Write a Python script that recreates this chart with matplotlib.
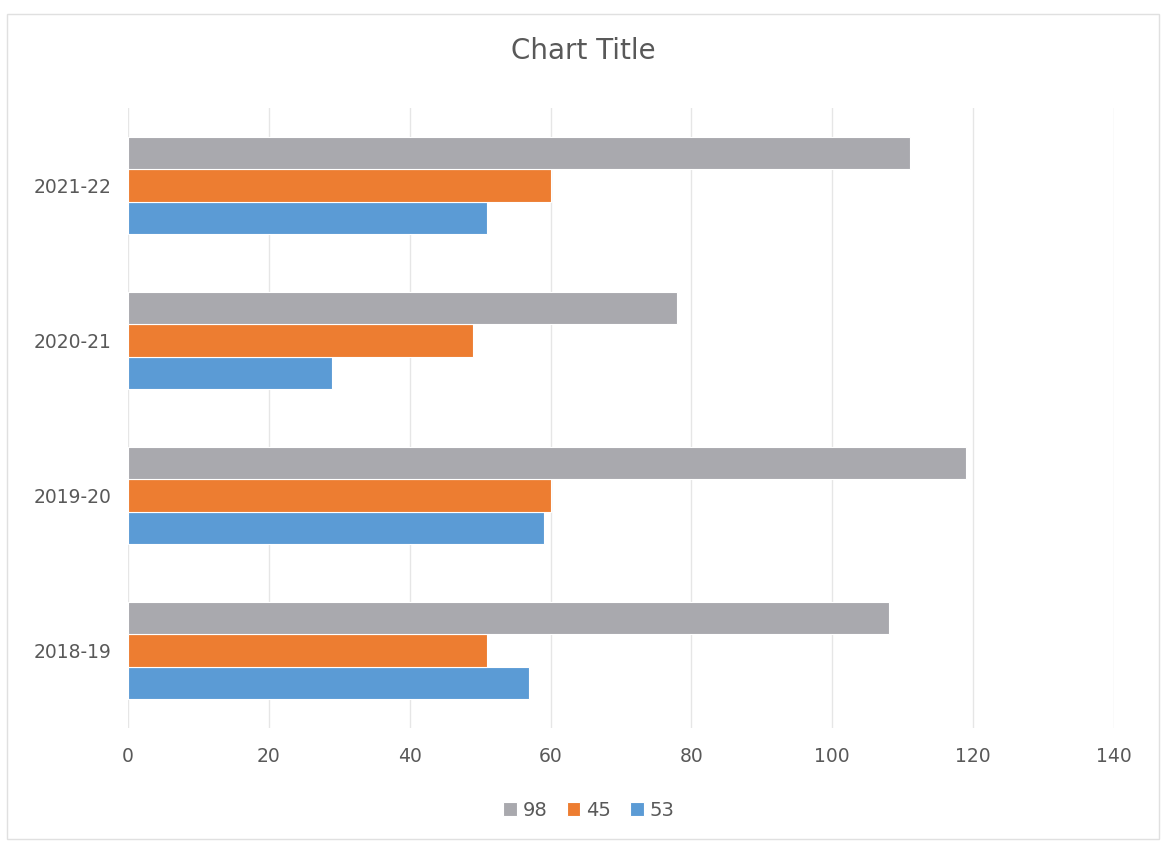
"""Grouped horizontal bar chart, Excel style
"""
import numpy as np
import matplotlib.pyplot as plt
from matplotlib.patches import Rectangle

# ----------
# Data
# ----------
categories = ["2018-19", "2019-20", "2020-21", "2021-22"]
series_names = ["53", "45", "98"]
values_53 = [57, 59, 29, 51]
values_45 = [51, 60, 49, 60]
values_98 = [108, 119, 78, 111]
x_ticks = [0, 20, 40, 60, 80, 100, 120, 140]

colors = ["#5B9BD5", "#ED7D31", "#A9A9AE"]
text_color = "#595959"

fig = plt.figure(figsize=(11.66, 8.46), dpi=100)
ax = fig.add_axes([0.1098, 0.1395, 0.8456, 0.7328])

y_pos = np.arange(len(categories))
bar_h = 0.207
series_values = [values_53, values_45, values_98]

handles = []
for i, (name, vals) in enumerate(zip(series_names, series_values)):
    offset = (i - 1) * bar_h
    h = ax.barh(y_pos + offset, vals, height=bar_h, color=colors[i],
                edgecolor="white", linewidth=0.8, label=name, zorder=3)
    handles.append(h)

# -------
# Axis
# -------
ax.set_xlim(0, 140)
ax.set_ylim(-0.5, len(categories) - 0.5)
ax.set_xticks(x_ticks)
ax.set_yticks(y_pos)
ax.set_yticklabels(categories)
ax.tick_params(axis="both", length=0, labelsize=13.5, colors=text_color)
ax.tick_params(axis="x", pad=14)
ax.tick_params(axis="y", pad=12)
ax.grid(axis="x", color="#E6E6E6", linewidth=1, zorder=0)
for spine in ax.spines.values():
    spine.set_visible(False)

fig.text(0.5, 0.94, "Chart Title", ha="center", va="center",
         fontsize=20, color=text_color)

fig.legend(handles[::-1], series_names[::-1], loc="center",
           bbox_to_anchor=(0.505, 0.042), ncol=3, frameon=False,
           fontsize=14, handlelength=0.7, handleheight=0.7,
           handletextpad=0.3, columnspacing=1.0, labelcolor=text_color)

# Chart area border
fig.patches.append(Rectangle((0.006, 0.008), 0.988, 0.975,
                             transform=fig.transFigure, fill=False,
                             edgecolor="#E0E0E0", linewidth=1))

plt.savefig("out.png", dpi=100)
plt.close()
